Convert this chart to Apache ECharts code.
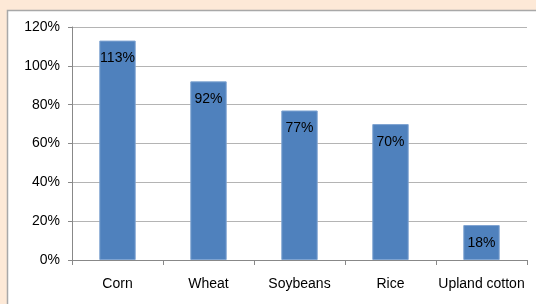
<!DOCTYPE html>
<html>
<head>
<meta charset="utf-8">
<script src="https://cdn.jsdelivr.net/npm/echarts@6/dist/echarts.min.js"></script>
<style>
html, body { margin: 0; padding: 0; background: #fde9d7; }
#chart { width: 536px; height: 304px; }
</style>
</head>
<body>
<div id="chart"></div>
<script>
var crops = ['Corn', 'Wheat', 'Soybeans', 'Rice', 'Upland cotton'];
var shares = [1.13, 0.92, 0.77, 0.70, 0.18];
var yTicks = [0, 0.2, 0.4, 0.6, 0.8, 1.0, 1.2];

function pct(v) {
    return Math.round(v * 100) + '%';
}

var option = {
    backgroundColor: '#fde9d7',
    animation: false,
    textStyle: { fontFamily: 'Liberation Sans, Arial, sans-serif' },
    graphic: [
        {
            type: 'rect',
            z: -10,
            shape: { x: 7.5, y: 10.5, width: 540, height: 300 },
            style: { fill: '#ffffff', stroke: '#a8a8a8', lineWidth: 1.5 }
        }
    ],
    grid: { left: 72, right: 9, top: 27, bottom: 44 },
    xAxis: {
        type: 'category',
        data: crops,
        axisLine: { lineStyle: { color: '#888888' } },
        axisTick: { show: true, length: 5, lineStyle: { color: '#888888' } },
        axisLabel: { color: '#000000', fontSize: 14, margin: 17, interval: 0 }
    },
    yAxis: {
        type: 'value',
        min: yTicks[0],
        max: yTicks[yTicks.length - 1],
        interval: 0.2,
        axisLine: { show: true, lineStyle: { color: '#888888' } },
        axisTick: { show: true, length: 4, lineStyle: { color: '#888888' } },
        axisLabel: { color: '#000000', fontSize: 14, margin: 12, formatter: pct },
        splitLine: { lineStyle: { color: '#b4b4b4', width: 1 } }
    },
    series: [
        {
            type: 'bar',
            data: shares,
            barWidth: '40%',
            itemStyle: { color: '#4f81bd', borderColor: '#7ea3d1', borderWidth: 1 },
            label: {
                show: true,
                position: 'insideTop',
                distance: 11,
                color: '#000000',
                fontSize: 14,
                formatter: function (p) { return pct(p.value); }
            }
        }
    ]
};

echarts.init(document.getElementById('chart')).setOption(option);
</script>
</body>
</html>
